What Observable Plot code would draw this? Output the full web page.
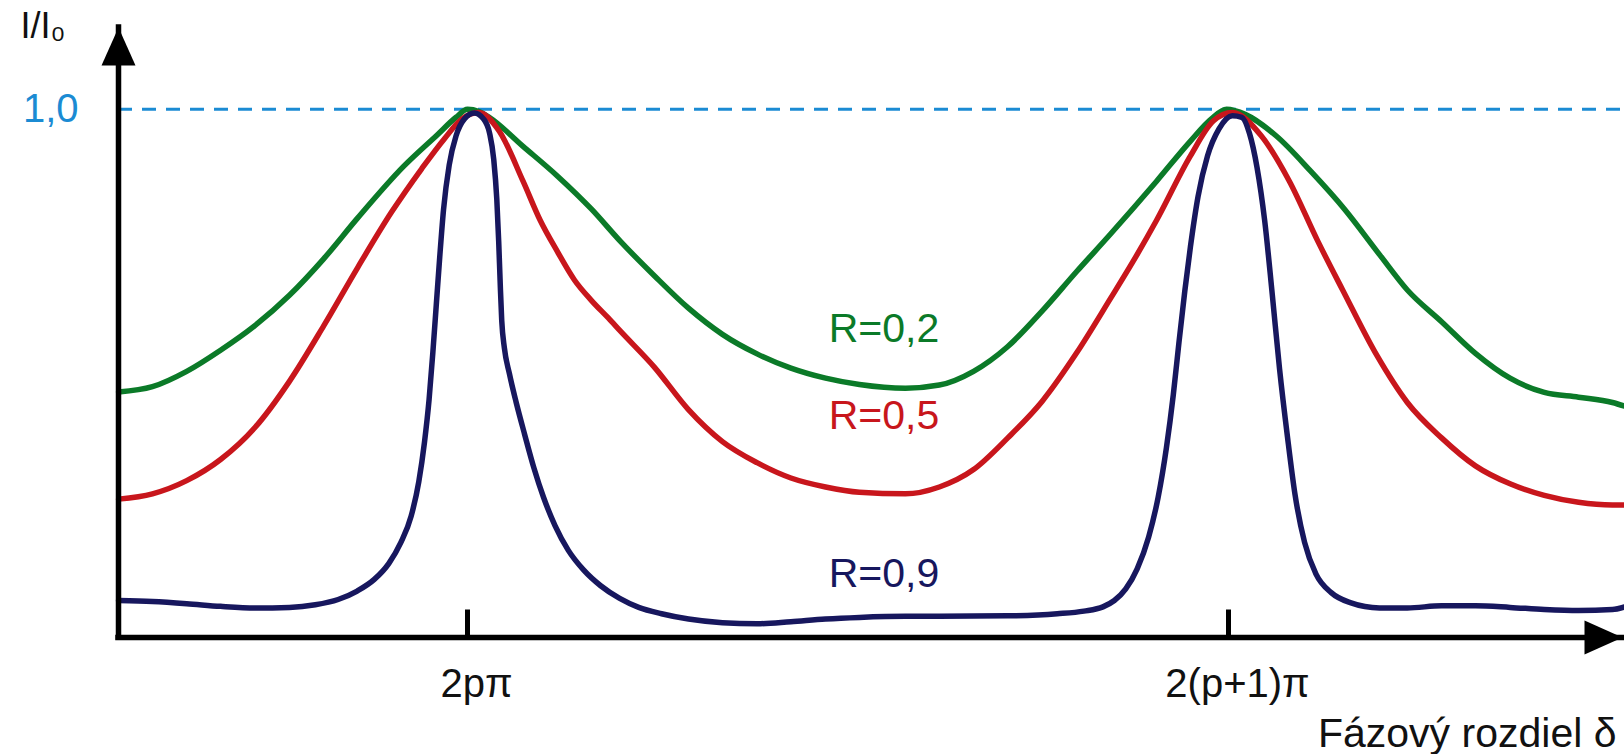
<!DOCTYPE html>
<html>
<head>
<meta charset="utf-8">
<script src="https://cdn.jsdelivr.net/npm/d3@7"></script>
<script src="https://cdn.jsdelivr.net/npm/@observablehq/plot@0.6"></script>
<style>
  html, body { margin: 0; padding: 0; background: #fff; }
  #chart svg { display: block; }
</style>
</head>
<body>
<div id="chart"></div>
<script>
// ---- data (phase in units of π relative to 2pπ, intensity I/I0) ----
const phaseR02 = [-0.917, -0.828, -0.738, -0.649, -0.558, -0.468, -0.378, -0.289, -0.168, -0.079, -0.030, 0.0, 0.030, 0.057, 0.146, 0.236, 0.326, 0.402, 0.491, 0.580, 0.670, 0.761, 0.850, 0.941, 1.030, 1.151, 1.240, 1.330, 1.420, 1.510, 1.601, 1.690, 1.811, 1.900, 1.955, 1.995, 2.045, 2.125, 2.216, 2.305, 2.397, 2.470, 2.560, 2.649, 2.740, 2.830, 2.920, 3.009, 3.041];
const intensityR02 = [0.465, 0.475, 0.504, 0.544, 0.591, 0.648, 0.717, 0.794, 0.892, 0.952, 0.985, 1.0, 0.996, 0.985, 0.930, 0.874, 0.811, 0.750, 0.685, 0.624, 0.574, 0.537, 0.510, 0.491, 0.479, 0.472, 0.478, 0.504, 0.551, 0.618, 0.693, 0.764, 0.864, 0.940, 0.982, 1.0, 0.99, 0.950, 0.883, 0.811, 0.725, 0.658, 0.598, 0.538, 0.491, 0.464, 0.455, 0.445, 0.438];

const phaseR05 = [-0.917, -0.828, -0.738, -0.649, -0.558, -0.468, -0.378, -0.289, -0.200, -0.120, -0.060, -0.016, 0.029, 0.084, 0.146, 0.191, 0.236, 0.281, 0.326, 0.370, 0.402, 0.491, 0.580, 0.670, 0.761, 0.850, 0.941, 1.030, 1.151, 1.240, 1.330, 1.420, 1.510, 1.601, 1.690, 1.750, 1.811, 1.900, 1.960, 2.010, 2.085, 2.160, 2.235, 2.300, 2.390, 2.470, 2.560, 2.649, 2.740, 2.830, 2.920, 3.009, 3.041];
const intensityR05 = [0.262, 0.272, 0.297, 0.337, 0.398, 0.485, 0.590, 0.700, 0.805, 0.888, 0.945, 0.981, 0.994, 0.958, 0.864, 0.790, 0.731, 0.677, 0.638, 0.605, 0.580, 0.512, 0.432, 0.371, 0.331, 0.302, 0.285, 0.275, 0.272, 0.285, 0.318, 0.378, 0.447, 0.539, 0.642, 0.713, 0.790, 0.912, 0.978, 0.994, 0.951, 0.864, 0.750, 0.658, 0.534, 0.445, 0.378, 0.325, 0.291, 0.269, 0.256, 0.251, 0.251];

const phaseR09 = [-0.917, -0.828, -0.738, -0.649, -0.558, -0.468, -0.400, -0.340, -0.290, -0.245, -0.207, -0.175, -0.148, -0.128, -0.113, -0.101, -0.091, -0.082, -0.073, -0.063, -0.048, -0.030, -0.008, 0.018, 0.042, 0.058, 0.069, 0.077, 0.082, 0.086, 0.090, 0.097, 0.110, 0.128, 0.150, 0.175, 0.200, 0.230, 0.265, 0.305, 0.350, 0.400, 0.450, 0.510, 0.581, 0.670, 0.761, 0.850, 0.941, 1.030, 1.151, 1.240, 1.420, 1.550, 1.620, 1.670, 1.700, 1.730, 1.760, 1.790, 1.815, 1.837, 1.855, 1.870, 1.885, 1.900, 1.920, 1.945, 1.975, 2.010, 2.035, 2.055, 2.075, 2.095, 2.115, 2.134, 2.155, 2.175, 2.200, 2.230, 2.270, 2.320, 2.397, 2.470, 2.560, 2.649, 2.740, 2.830, 2.920, 3.009, 3.041];
const intensityR09 = [0.070, 0.068, 0.064, 0.059, 0.056, 0.057, 0.062, 0.072, 0.088, 0.110, 0.140, 0.180, 0.230, 0.295, 0.370, 0.450, 0.540, 0.630, 0.720, 0.810, 0.895, 0.950, 0.982, 0.993, 0.982, 0.955, 0.905, 0.830, 0.750, 0.670, 0.600, 0.548, 0.500, 0.445, 0.385, 0.320, 0.265, 0.212, 0.165, 0.128, 0.098, 0.074, 0.057, 0.045, 0.035, 0.028, 0.026, 0.030, 0.035, 0.038, 0.040, 0.040, 0.041, 0.045, 0.050, 0.058, 0.070, 0.092, 0.130, 0.190, 0.265, 0.360, 0.460, 0.560, 0.655, 0.740, 0.835, 0.912, 0.963, 0.988, 0.985, 0.955, 0.890, 0.790, 0.650, 0.510, 0.380, 0.270, 0.180, 0.120, 0.085, 0.066, 0.056, 0.056, 0.060, 0.060, 0.057, 0.053, 0.051, 0.053, 0.058];

const seriesNames = ["R=0,2", "R=0,5", "R=0,9"];
const seriesColors = ["#0b7a28", "#c8161c", "#17175e"];
const tickPhases = [0, 2];
const tickLabels = ["2pπ", "2(p+1)π"];
const referenceLevel = 1.0;
const referenceLabel = "1,0";
const yAxisTitle = "I/I₀";
const xAxisTitle = "Fázový rozdiel δ";

// ---- build table ----
const phases = [phaseR02, phaseR05, phaseR09];
const intensities = [intensityR02, intensityR05, intensityR09];
const rows = seriesNames.flatMap((name, s) =>
  phases[s].map((p, i) => ({series: name, phase: p, intensity: intensities[s][i]}))
);

const xDomain = [-0.9172, 3.0355];
const yDomain = [0, 1.155];
const font = "'Liberation Sans', Arial, Helvetica, sans-serif";
const blue = "#1b8bd3";
const ink = "#111";

// custom shapes (drawn relative to the anchor point)
const arrowHead = {draw(ctx) { ctx.moveTo(0, 0); ctx.lineTo(-17, 38); ctx.lineTo(17, 38); ctx.closePath(); }};
const tickShape = {draw(ctx) { ctx.moveTo(0, 0); ctx.lineTo(0, -28); }};

const minOf = (s) => d3.least(rows.filter(d => d.series === seriesNames[s]), d => d.intensity);
const labelDy = [-77, -89, -50];

const chart = Plot.plot({
  width: 1624,
  height: 754,
  marginLeft: 118,
  marginRight: 2,
  marginTop: 27,
  marginBottom: 117,
  style: {fontFamily: font, background: "#fff", overflow: "visible"},
  x: {domain: xDomain, axis: null},
  y: {domain: yDomain, axis: null},
  color: {domain: seriesNames, range: seriesColors},
  marks: [
    Plot.ruleY([referenceLevel], {stroke: blue, strokeWidth: 3, strokeDasharray: "14,10"}),
    Plot.line(rows, {x: "phase", y: "intensity", z: "series", stroke: "series", strokeWidth: 5.5, curve: "monotone-x", strokeLinejoin: "round", strokeLinecap: "round"}),
    Plot.ruleX([xDomain[0]], {stroke: "#000", strokeWidth: 5.5, strokeLinecap: "square"}),
    Plot.ruleY([0], {stroke: "#000", strokeWidth: 5.5, strokeLinecap: "square"}),
    Plot.dot([xDomain[0]], {x: d => d, y: () => yDomain[1], symbol: arrowHead, fill: "#000", stroke: null}),
    Plot.dot([xDomain[1]], {x: d => d, y: () => 0, symbol: arrowHead, fill: "#000", stroke: null, rotate: 90}),
    Plot.dot(tickPhases, {x: d => d, y: () => 0, symbol: tickShape, fill: "none", stroke: "#000", strokeWidth: 5}),
    Plot.text(tickPhases, {x: d => d, y: () => 0, text: (d, i) => tickLabels[i], dy: 47, dx: 9, fontSize: 40, fill: ink, textAnchor: "middle"}),
    Plot.text([xAxisTitle], {x: () => xDomain[1], y: () => 0, text: d => d, dy: 96, dx: -6, fontSize: 41, fill: ink, textAnchor: "end"}),
    Plot.text([yAxisTitle], {x: () => xDomain[0], y: () => yDomain[1], text: d => d, dx: -53, dy: -1, fontSize: 36, fill: ink, textAnchor: "end"}),
    Plot.text([referenceLabel], {x: () => xDomain[0], y: () => referenceLevel, text: d => d, dx: -40, fontSize: 40, fill: blue, textAnchor: "end"}),
    ...seriesNames.map((name, s) =>
      Plot.text([minOf(s)], {x: () => 1, y: "intensity", text: () => name, dx: 36, dy: labelDy[s], fontSize: 41, fill: seriesColors[s], textAnchor: "middle"})
    )
  ]
});
document.getElementById("chart").appendChild(chart);
</script>
</body>
</html>
